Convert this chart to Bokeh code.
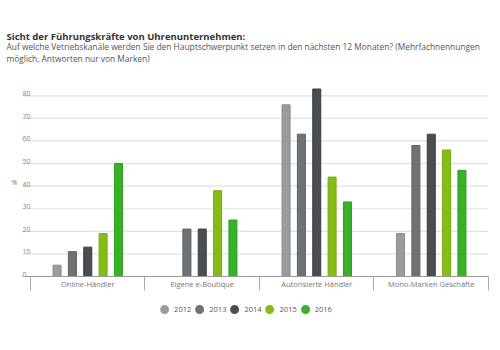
from bokeh.plotting import figure
from bokeh.layouts import column
from bokeh.models import (ColumnDataSource, FixedTicker, Range1d, Label, Legend, LegendItem)
from bokeh.embed import file_html
from bokeh.resources import INLINE

categories = ["Online-Händler", "Eigene e-Boutique", "Autorisierte Händler", "Mono-Marken Geschäfte"]
years = ["2012", "2013", "2014", "2015", "2016"]
v2012 = [5, 0, 76, 19]
v2013 = [11, 21, 63, 58]
v2014 = [13, 21, 83, 63]
v2015 = [19, 38, 44, 56]
v2016 = [50, 25, 33, 47]
series = [v2012, v2013, v2014, v2015, v2016]
colors = ["#9a9b9c", "#6f7275", "#4a4e52", "#86bc17", "#3aaf27"]
outlines = ["#8a8b8c", "#5f6265", "#3a3e42", "#76ac10", "#2a9f1f"]
y_ticks = [0, 10, 20, 30, 40, 50, 60, 70, 80]
y_tick_labels = [str(t) for t in y_ticks]
title_text = "Sicht der Führungskräfte von Uhrenunternehmen:"
subtitle_lines = ["Auf welche Vetriebskanäle werden Sie den Hauptschwerpunkt setzen in den nächsten 12 Monaten? (Mehrfachnennungen",
                  "möglich, Antworten nur von Marken)"]

FONT = "Open Sans"
X_START = -0.262   # left edge of the figure frame (category units)
X_PAD = -0.07      # left edge of the plotted area (gridlines, baseline)


def blank_fig(height):
    f = figure(width=500, height=height, output_backend="svg", toolbar_location=None,
               x_range=Range1d(0, 488), y_range=Range1d(0, height),
               x_axis_location=None, y_axis_location=None,
               min_border_left=0, min_border_top=0, min_border_bottom=0, min_border_right=12,
               outline_line_color=None, border_fill_color="white")
    f.xgrid.visible = False
    f.ygrid.visible = False
    return f


# ---- title block (pixel coordinates inside its own frame)
tf = blank_fig(70)
tf.add_layout(Label(x=6, y=34.5, text=title_text, text_font=FONT, text_font_size="9.5px",
                    text_font_style="bold", text_color="#333333", text_baseline="alphabetic"))
tf.add_layout(Label(x=6, y=24.5, text=subtitle_lines[0], text_font=FONT, text_font_size="8.4px",
                    text_color="#555555", text_baseline="alphabetic"))
tf.add_layout(Label(x=6, y=12.5, text=subtitle_lines[1], text_font=FONT, text_font_size="8.4px",
                    text_color="#555555", text_baseline="alphabetic"))

# ---- main chart
p = figure(width=500, height=225, output_backend="svg", toolbar_location=None,
           x_range=Range1d(X_START, 4), y_range=Range1d(0, 85), y_axis_location=None,
           min_border_left=0, min_border_right=12, min_border_top=14, min_border_bottom=19,
           outline_line_color=None, background_fill_color="white", border_fill_color="white")

# gridlines (from the tick list)
p.xgrid.visible = False
p.ygrid.visible = False
p.segment(x0=[X_PAD] * (len(y_ticks) - 1), x1=[4] * (len(y_ticks) - 1),
          y0=y_ticks[1:], y1=y_ticks[1:], line_color="#e2e2e2", line_width=1.2)

# y tick labels sitting just above their gridlines, inside the plot area
p.text(x=[X_PAD] * len(y_ticks), y=y_ticks, text=y_tick_labels, text_font=FONT_VAL if False else None) if False else None
from bokeh.core.properties import value
p.text(x=[X_PAD] * len(y_ticks), y=y_ticks, text=y_tick_labels, text_font=value(FONT),
       text_font_size="7px", text_color="#888888", text_align="left",
       text_baseline="alphabetic", y_offset=-2)
p.add_layout(Label(x=-0.166, y=41.4, text="%", text_font=FONT, text_font_size="7px",
                   text_color="#777777", text_baseline="alphabetic"))

step = 0.134
bar_w = 0.07
for j, (yr, vals) in enumerate(zip(years, series)):
    xs = [i + 0.5 + (j - 2) * step for i in range(len(categories))]
    src = ColumnDataSource(dict(x=xs, top=vals))
    p.vbar(x="x", top="top", width=bar_w, source=src, fill_color=colors[j],
           line_color=outlines[j], line_width=1)

xax = p.xaxis[0]
xax.bounds = (X_PAD, 4)
xax.ticker = FixedTicker(ticks=[i + 0.5 for i in range(len(categories))],
                         minor_ticks=list(range(len(categories) + 1)))
xax.major_label_overrides = {i + 0.5: c for i, c in enumerate(categories)}
xax.major_tick_line_color = None
xax.major_tick_out = 0
xax.minor_tick_out = 14
xax.minor_tick_in = 0
xax.minor_tick_line_color = "#aaaaaa"
xax.axis_line_color = "#999999"
xax.major_label_text_font = FONT
xax.major_label_text_font_size = "7.5px"
xax.major_label_text_color = "#777777"
xax.major_label_standoff = -12

# ---- legend block
lf = blank_fig(55)
items = []
for j, yr in enumerate(years):
    r = lf.scatter(x=[-10], y=[-10], marker="circle", size=9, fill_color=colors[j],
                   line_color=colors[j], line_width=2.5)
    items.append(LegendItem(label=yr, renderers=[r]))
legend = Legend(items=items, orientation="horizontal", location="top_center",
                label_text_font=FONT, label_text_font_size="7.5px", label_text_color="#555555",
                glyph_width=16, glyph_height=16, label_height=10, label_width=0,
                label_standoff=2, spacing=0,
                border_line_color=None, background_fill_alpha=0, padding=2, margin=6)
lf.add_layout(legend)

layout = column(tf, p, lf, spacing=0)
open("out.html", "w").write(file_html(layout, INLINE))
